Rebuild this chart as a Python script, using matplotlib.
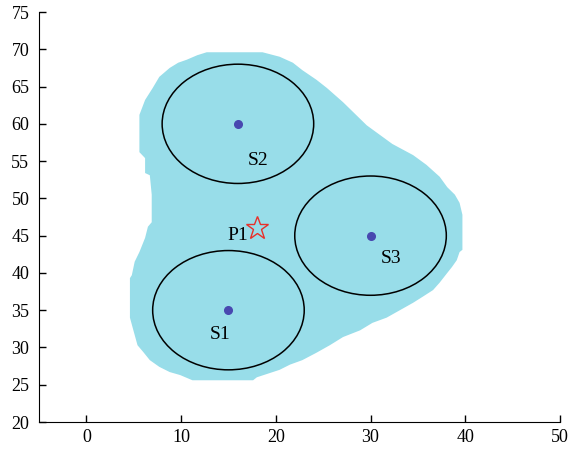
import matplotlib.pyplot as plt
from matplotlib.patches import Polygon, Circle

plt.rcParams['font.family'] = ['Liberation Serif', 'DejaVu Serif']

# outline of the covered region (x, y)
region_x = [12.7, 18.6, 20.4, 21.8, 22.8, 24.3, 25.4, 27.1, 29.6, 32.3, 34.5, 35.9,
            37.3, 38.1, 38.9, 39.4, 39.7, 39.7, 39.4, 39.1, 38.6, 38.1, 37.3, 36.6,
            35.5, 34.5, 33.1, 31.7, 30.2, 28.9, 27.1, 25.7, 24.3, 22.8, 21.5, 20.4,
            18.0, 17.6, 11.2, 9.9, 8.8, 7.7, 6.7, 6.0, 5.4, 4.9, 4.6, 4.6, 4.8, 5.1,
            5.6, 6.2, 6.5, 6.9, 6.9, 6.7, 6.2, 6.2, 5.6, 5.6, 6.2, 7.0, 7.7, 8.8,
            9.7, 10.6, 11.7]
region_y = [69.6, 69.6, 69.0, 68.2, 67.2, 65.9, 64.8, 62.9, 59.8, 57.3, 55.8, 54.5,
            52.9, 51.5, 50.5, 49.4, 47.8, 43.1, 42.8, 41.7, 40.8, 40.0, 38.7, 37.7,
            36.8, 36.0, 35.0, 34.0, 33.3, 32.3, 31.4, 30.3, 29.3, 28.3, 27.7, 27.0,
            26.0, 25.6, 25.6, 26.3, 26.7, 27.4, 28.3, 29.4, 30.3, 32.6, 34.0, 39.3,
            39.7, 41.5, 42.8, 44.7, 46.2, 46.8, 50.5, 53.1, 53.4, 55.4, 56.2, 61.2,
            63.2, 64.8, 66.3, 67.5, 68.2, 68.6, 69.2]

# sensors and their ranges
sensor_names = ['S1', 'S2', 'S3']
sensor_x = [15, 16, 30]
sensor_y = [35, 60, 45]
sensor_r = [8, 8, 8]
label_x = [14.1, 18.1, 32.2]
label_y = [31.8, 55.1, 42.0]

# target point
p_name = 'P1'
p_x = 18
p_y = 46

fig = plt.figure(figsize=(5.71, 4.53), dpi=100)
ax = fig.add_axes([0.0683, 0.0684, 0.9124, 0.9051])

ax.add_patch(Polygon(list(zip(region_x, region_y)), closed=True,
                     facecolor='#98dde9', edgecolor='none', zorder=1))

for x, y, r in zip(sensor_x, sensor_y, sensor_r):
    ax.add_patch(Circle((x, y), r, facecolor='none', edgecolor='black',
                        linewidth=1.1, zorder=3))

ax.plot(sensor_x, sensor_y, 'o', color='#4848b0', markersize=5.5, zorder=4)
for name, x, y in zip(sensor_names, label_x, label_y):
    ax.text(x, y, name, fontsize=14, ha='center', va='center', zorder=5)

ax.plot([p_x], [p_y], marker='*', markersize=17, markerfacecolor='none',
        markeredgecolor='#e8302a', markeredgewidth=1.0, linestyle='none', zorder=5)
ax.text(16.0, 45.0, p_name, fontsize=14, ha='center', va='center', zorder=5)

ax.set_xlim(-5, 50)
ax.set_ylim(20, 75)
ax.set_xticks([0, 10, 20, 30, 40, 50])
ax.set_yticks(range(20, 80, 5))
ax.spines['top'].set_visible(False)
ax.spines['right'].set_visible(False)
ax.tick_params(direction='in', length=5, width=1, labelsize=13, pad=5)
ax.tick_params(axis='y', pad=7)

fig.savefig('out.png', dpi=100)
